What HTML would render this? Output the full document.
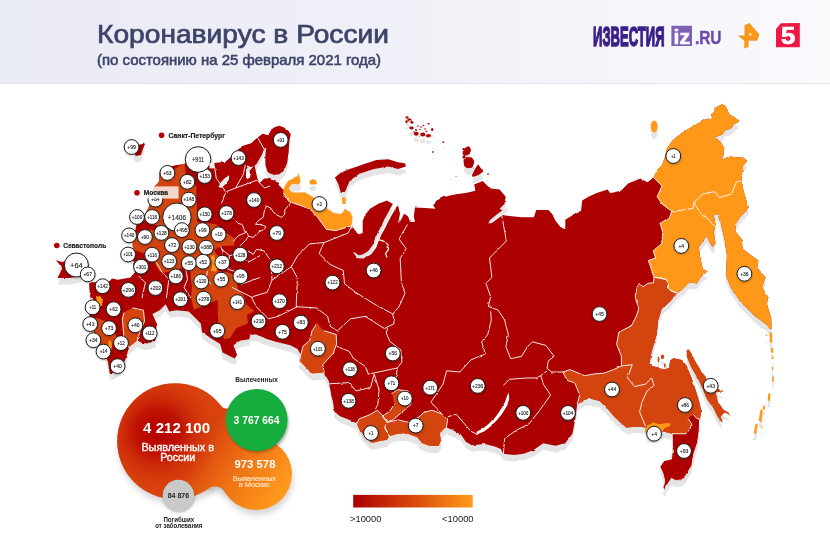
<!DOCTYPE html><html lang="ru"><head><meta charset="utf-8"><title>Коронавирус в России</title>
<style>html,body{margin:0;padding:0;background:#fff}body{width:830px;height:554px;overflow:hidden;font-family:"Liberation Sans","DejaVu Sans",sans-serif}svg{display:block}text{font-family:"Liberation Sans","DejaVu Sans",sans-serif}</style></head><body>
<svg width="830" height="554" viewBox="0 0 830 554">
<defs>
<linearGradient id="hd" x1="0" y1="0" x2="1" y2="0"><stop offset="0" stop-color="#e8eaf4"/><stop offset="0.55" stop-color="#f1f1f8"/><stop offset="1" stop-color="#faf9fc"/></linearGradient>
<linearGradient id="lg" x1="0" y1="0" x2="1" y2="0"><stop offset="0" stop-color="#ab0000"/><stop offset="0.5" stop-color="#d8480d"/><stop offset="1" stop-color="#ff9b1a"/></linearGradient>
<linearGradient id="bl" gradientUnits="userSpaceOnUse" x1="205" y1="440" x2="285" y2="490"><stop offset="0" stop-color="#d9430e"/><stop offset="0.45" stop-color="#ee7214"/><stop offset="1" stop-color="#ff9a1c"/></linearGradient>
<radialGradient id="rg" gradientUnits="userSpaceOnUse" cx="158" cy="432" r="64"><stop offset="0" stop-color="#b30000"/><stop offset="0.35" stop-color="#bf1203"/><stop offset="1" stop-color="#d9430e" stop-opacity="0"/></radialGradient>
<filter id="bs" x="-20%" y="-20%" width="140%" height="150%"><feGaussianBlur stdDeviation="3"/></filter>
<filter id="cs" x="-30%" y="-30%" width="160%" height="160%"><feGaussianBlur stdDeviation="0.8"/></filter>
<filter id="jag" x="0" y="0" width="830" height="554" filterUnits="userSpaceOnUse" color-interpolation-filters="sRGB"><feTurbulence type="fractalNoise" baseFrequency="0.22" numOctaves="2" seed="7" result="n"/><feDisplacementMap in="SourceGraphic" in2="n" scale="2.2" xChannelSelector="R" yChannelSelector="G"/></filter>
</defs>
<rect x="0" y="0" width="830" height="83" fill="url(#hd)"/>
<rect x="0" y="83" width="830" height="1" fill="#e3e3ea"/>
<text x="97" y="42.8" font-size="26" fill="#3e4369" stroke="#3e4369" stroke-width="0.7" textLength="292" lengthAdjust="spacingAndGlyphs">Коронавирус в России</text>
<text x="97" y="65.2" font-size="14.5" fill="#3e4369" stroke="#3e4369" stroke-width="0.55" textLength="284" lengthAdjust="spacingAndGlyphs">(по состоянию на 25 февраля 2021 года)</text>
<g id="logos">
<text x="593.1" y="45.7" font-size="28" font-weight="bold" fill="#3b1f8c" stroke="#3b1f8c" stroke-width="1.6" textLength="71.4" lengthAdjust="spacingAndGlyphs">ИЗВЕСТИЯ</text>
<rect x="671.4" y="25.8" width="20.6" height="20.2" fill="#7c5fb6"/>
<text x="673.5" y="44" font-size="20" font-weight="bold" fill="#fff" stroke="#fff" stroke-width="0.6" textLength="16.5" lengthAdjust="spacingAndGlyphs">iz</text>
<text x="694.9" y="43.9" font-size="17.6" font-weight="bold" fill="#6a4bb0" stroke="#6a4bb0" stroke-width="0.4" textLength="26.6" lengthAdjust="spacingAndGlyphs">.RU</text>
<path fill-rule="evenodd" d="M744.5 25.3 L749.4 23.1 L759.5 34.5 L757 40.8 L748.6 40.8 L748.6 47 L744.3 48.6 L744.3 41 L738 35.4 L744.5 35.4 Z M749.4 32.4 L752.1 35.1 L749.4 35.4 Z" fill="#f7991c"/>
<path d="M780.9 23.3 L799.8 23.1 L799.8 47.3 L776 47.3 L776 29.1 Z" fill="#ed1846"/>
<text x="781" y="44.3" font-size="23.5" font-weight="bold" fill="#fff" stroke="#fff" stroke-width="0.7" textLength="14.3" lengthAdjust="spacingAndGlyphs">5</text>
</g>
<g filter="url(#jag)">
<g id="shadow" transform="translate(0,6.5)"><path d="M257.5 137.4 L262.6 133.8 L268.4 135.2 L271.3 129.5 L275.0 127.0 L279.2 125.8 L284.0 127.5 L288.6 130.9 L290.8 134.5 L289.3 141.0 L288.6 152.6 L287.2 162.7 L284.3 169.9 L279.2 174.3 L272.7 175.0 L267.7 172.1 L265.5 165.6 L265.2 156.9 L266.2 147.5 L264.0 149.0 L261.9 154.8 L259.0 159.8 L256.5 164.0 L253.9 166.3 L251.0 167.0 L248.1 165.6 L246.0 170.7 L246.0 177.2 L248.1 180.0 L250.3 176.4 L249.6 170.7 L252.5 167.5 L254.6 165.6 L256.1 172.8 L257.5 178.6 L259.7 183.0 L261.9 180.8 L264.0 178.6 L268.4 178.6 L274.2 180.8 L279.2 183.0 L280.7 187.3 L282.9 189.0 L287.2 181.5 L294.4 177.2 L297.3 175.7 L298.4 172.1 L300.2 177.2 L300.9 181.5 L298.7 185.1 L294.4 184.4 L290.8 185.8 L289.3 188.7 L291.5 191.6 L297.3 192.3 L304.6 191.9 L312.0 196.0 L319.0 201.0 L326.4 207.6 L333.7 212.5 L340.9 213.7 L344.5 208.8 L349.4 210.0 L353.0 217.3 L351.8 225.8 L357.0 233.0 L359.0 234.2 L362.7 233.0 L362.7 220.9 L365.0 215.0 L370.0 208.8 L378.0 204.0 L386.9 200.4 L392.9 204.0 L390.7 207.7 L387.2 214.2 L384.0 220.1 L381.5 225.8 L377.8 232.5 L374.9 239.1 L372.5 245.3 L368.1 251.3 L362.5 254.6 L358.7 255.3 L354.1 252.0 L353.3 252.8 L357.5 258.3 L363.7 258.4 L371.1 254.5 L376.3 247.5 L378.7 240.7 L381.6 234.3 L385.3 227.8 L388.0 222.1 L391.0 216.4 L394.7 209.9 L398.0 205.2 L400.0 213.7 L398.0 223.3 L401.0 220.0 L404.0 213.7 L407.7 216.1 L409.0 218.5 L410.0 222.0 L415.0 222.1 L413.8 216.1 L415.0 207.6 L425.0 208.0 L435.5 208.8 L433.1 205.2 L436.7 200.4 L444.0 196.7 L456.1 194.3 L465.8 193.1 L475.4 190.7 L474.2 184.6 L482.7 181.0 L485.1 183.4 L490.0 188.3 L499.6 189.5 L505.7 196.7 L504.5 204.0 L499.6 208.8 L503.0 211.0 L502.0 214.9 L509.3 216.1 L521.8 217.3 L533.9 217.3 L536.3 210.0 L548.4 210.0 L552.0 213.7 L555.6 220.9 L560.5 227.0 L565.3 229.4 L565.3 219.7 L573.0 215.0 L581.0 211.2 L582.2 200.4 L589.0 196.5 L596.7 193.1 L607.6 189.5 L610.0 193.1 L620.9 190.7 L628.2 183.4 L640.3 178.6 L647.5 182.2 L653.6 177.4 L657.2 170.1 L662.0 165.3 L665.0 157.0 L666.9 148.4 L672.3 140.8 L680.8 133.5 L692.9 126.3 L705.0 119.5 L712.2 117.8 L711.0 114.2 L714.6 111.8 L714.6 108.1 L723.1 103.8 L726.7 108.1 L729.2 114.2 L735.2 117.8 L738.8 121.4 L734.0 125.0 L730.4 128.7 L725.5 129.9 L721.9 134.7 L714.6 137.2 L720.7 142.0 L724.3 148.0 L723.1 156.5 L720.7 160.1 L729.2 156.5 L743.7 157.7 L747.3 161.3 L742.5 166.2 L741.7 180.7 L743.7 191.6 L746.3 200.0 L748.7 207.3 L744.0 213.0 L740.3 216.9 L735.4 224.2 L735.4 231.4 L741.5 238.7 L742.7 248.4 L750.0 254.4 L758.4 260.5 L757.2 267.7 L765.7 277.4 L762.0 287.1 L768.1 296.7 L766.9 304.0 L771.2 318.0 L771.5 326.0 L770.5 329.5 L767.0 325.0 L754.8 316.1 L740.3 301.6 L730.6 287.1 L725.8 275.0 L727.0 255.6 L724.5 238.7 L720.9 224.2 L718.0 215.0 L714.0 214.0 L713.7 215.7 L716.1 226.6 L713.7 231.4 L715.6 243.5 L712.5 247.2 L706.4 236.3 L698.7 247.2 L700.4 258.0 L702.8 268.9 L707.6 271.3 L700.4 277.4 L696.7 283.4 L689.5 282.2 L682.2 289.5 L677.4 293.1 L670.1 301.6 L661.7 308.8 L658.0 320.9 L656.8 334.0 L655.3 339.3 L651.7 351.4 L649.3 363.5 L652.0 366.0 L658.0 367.5 L664.0 369.5 L669.0 368.0 L670.2 360.5 L673.4 358.2 L681.9 359.9 L686.7 366.0 L691.6 378.0 L696.4 392.6 L700.0 404.6 L701.2 413.1 L699.6 419.3 L699.2 430.9 L697.6 442.5 L693.8 454.1 L691.8 465.7 L686.0 475.4 L681.2 480.2 L674.4 480.2 L671.5 478.3 L668.6 483.1 L665.7 486.0 L665.4 489.9 L662.9 487.9 L664.8 481.2 L662.9 473.4 L660.0 466.7 L663.8 460.9 L671.5 458.9 L672.5 448.3 L672.2 433.7 L662.6 431.2 L654.0 436.0 L648.0 436.1 L645.6 427.6 L638.4 426.4 L626.3 427.6 L616.6 419.2 L608.1 409.5 L599.7 401.0 L590.0 398.6 L584.4 399.8 L577.2 404.6 L574.8 421.6 L572.4 433.7 L565.1 443.3 L555.4 445.8 L543.3 443.3 L533.5 450.1 L523.8 453.8 L514.1 455.0 L503.2 453.8 L500.8 448.9 L494.8 446.5 L485.1 444.1 L471.8 445.3 L465.8 441.7 L460.9 434.4 L453.7 430.8 L446.4 427.2 L440.4 433.2 L441.6 440.5 L439.2 446.5 L429.5 446.5 L421.0 443.4 L417.4 438.0 L407.7 434.4 L398.0 434.4 L389.6 436.8 L387.2 440.5 L379.9 441.7 L372.6 443.4 L366.6 439.3 L360.6 432.0 L356.9 423.5 L349.7 419.9 L340.0 416.3 L334.3 411.6 L333.1 401.9 L331.4 396.1 L329.0 381.6 L324.1 373.1 L310.8 374.3 L308.4 370.7 L298.7 361.0 L301.1 355.0 L297.5 348.9 L290.3 345.3 L275.8 341.7 L263.7 338.0 L256.4 334.4 L250.4 334.4 L249.2 339.3 L240.7 340.5 L233.4 345.3 L237.1 355.0 L234.6 358.6 L222.6 352.6 L220.1 344.1 L210.5 338.0 L202.0 332.0 L200.8 323.5 L193.5 316.3 L188.7 311.4 L176.6 310.2 L169.3 311.4 L165.7 304.2 L159.7 310.2 L152.4 313.9 L156.7 323.5 L155.5 340.5 L148.0 343.5 L142.0 343.0 L137.4 340.5 L129.0 347.7 L125.3 359.8 L121.0 368.0 L114.0 373.0 L109.6 373.0 L108.0 362.0 L104.0 351.0 L97.0 340.0 L92.0 327.0 L89.0 313.0 L91.0 302.0 L93.9 299.2 L90.2 296.7 L89.0 283.4 L91.4 282.2 L108.4 282.2 L112.0 278.6 L118.0 279.8 L130.1 277.4 L135.0 272.6 L132.6 260.5 L132.6 243.5 L135.0 231.4 L143.4 224.2 L139.5 225.8 L146.7 211.2 L149.2 206.4 L154.0 187.0 L158.8 182.2 L160.0 170.1 L167.0 167.0 L175.8 165.3 L184.2 164.1 L190.0 160.0 L200.0 158.0 L210.5 165.7 L214.3 162.9 L222.1 161.9 L225.0 162.0 L229.3 158.4 L238.0 149.7 L242.3 146.1 L251.0 143.2 Z" fill="#e4e4e4"/><path d="M334.9 177.4 L340.9 172.6 L349.7 168.9 L364.2 164.1 L376.3 160.0 L388.4 159.3 L398.0 162.2 L405.3 163.4 L405.8 166.5 L398.0 168.9 L388.4 166.5 L373.9 168.9 L359.3 173.8 L349.7 181.0 L344.8 191.9 L340.9 193.1 L338.5 184.6 Z" fill="#e4e4e4"/><path d="M462.5 152.0 L465.0 148.0 L468.5 146.0 L470.9 149.0 L470.5 153.0 L467.0 155.6 L463.0 155.0 Z" fill="#e4e4e4"/><path d="M463.5 160.0 L466.0 157.0 L472.0 157.5 L474.2 161.0 L473.5 166.0 L470.0 169.3 L466.0 167.5 L464.0 164.0 Z" fill="#e4e4e4"/><path d="M472.0 175.0 L475.0 169.0 L478.1 164.2 L480.0 167.0 L483.4 171.5 L480.0 174.0 L476.0 176.0 L472.5 177.0 Z" fill="#e4e4e4"/><path d="M140.0 144.5 L145.2 143.5 L142.9 149.3 L140.9 155.1 L136.0 156.0 L133.0 152.0 L136.0 146.0 Z" fill="#e4e4e4"/><path d="M55.8 260.3 L62.0 262.0 L70.0 260.0 L80.0 263.0 L84.0 270.0 L80.0 276.0 L70.0 278.0 L57.4 277.9 L60.0 273.0 L62.2 268.6 L59.0 264.0 Z" fill="#e4e4e4"/><ellipse cx="407.0" cy="117.5" rx="1.6" ry="1.2" fill="#e4e4e4"/><ellipse cx="409.5" cy="120.0" rx="2.2" ry="1.4" fill="#e4e4e4"/><ellipse cx="412.0" cy="122.5" rx="1.5" ry="1.2" fill="#e4e4e4"/><ellipse cx="406.5" cy="121.5" rx="1.2" ry="1.2" fill="#e4e4e4"/><ellipse cx="411.5" cy="128.0" rx="2.2" ry="1.4" fill="#e4e4e4"/><ellipse cx="416.0" cy="130.0" rx="1.0" ry="1.0" fill="#e4e4e4"/><ellipse cx="418.0" cy="126.0" rx="0.8" ry="0.8" fill="#e4e4e4"/><ellipse cx="421.0" cy="127.0" rx="0.9" ry="0.7" fill="#e4e4e4"/><ellipse cx="423.5" cy="125.5" rx="0.9" ry="0.8" fill="#e4e4e4"/><ellipse cx="425.0" cy="129.0" rx="0.8" ry="0.8" fill="#e4e4e4"/><ellipse cx="420.0" cy="129.5" rx="0.7" ry="0.7" fill="#e4e4e4"/><ellipse cx="416.3" cy="133.8" rx="2.4" ry="2.0" fill="#e4e4e4"/><ellipse cx="422.8" cy="134.6" rx="2.6" ry="2.0" fill="#e4e4e4"/><ellipse cx="428.5" cy="135.7" rx="2.6" ry="1.7" fill="#e4e4e4"/><ellipse cx="428.6" cy="123.8" rx="1.2" ry="0.8" fill="#e4e4e4"/><ellipse cx="432.2" cy="129.5" rx="1.2" ry="1.5" fill="#e4e4e4"/><ellipse cx="443.4" cy="142.1" rx="1.0" ry="0.9" fill="#e4e4e4"/><ellipse cx="433.0" cy="152.0" rx="0.8" ry="0.9" fill="#e4e4e4"/><ellipse cx="414.0" cy="132.0" rx="0.9" ry="0.8" fill="#e4e4e4"/><ellipse cx="426.5" cy="131.5" rx="1.0" ry="0.7" fill="#e4e4e4"/><ellipse cx="463.5" cy="149.0" rx="1.3" ry="1.0" fill="#e4e4e4"/><ellipse cx="464.0" cy="157.0" rx="1.6" ry="1.6" fill="#e4e4e4"/><ellipse cx="450.5" cy="179.0" rx="0.7" ry="0.8" fill="#e4e4e4"/><ellipse cx="456.0" cy="176.5" rx="0.5" ry="0.5" fill="#e4e4e4"/><ellipse cx="488.0" cy="174.0" rx="1.0" ry="0.8" fill="#e4e4e4"/><path d="M686.7 349.8 L689.0 349.5 L691.4 353.2 L695.0 360.5 L702.2 372.6 L709.0 380.5 L718.2 388.9 L724.2 391.3 L715.8 392.6 L718.2 402.2 L720.8 405.8 L723.7 409.7 L728.6 412.6 L730.5 417.4 L728.6 414.5 L724.7 412.6 L720.8 416.4 L722.8 423.2 L717.9 417.4 L713.1 407.7 L707.3 400.0 L698.8 380.5 L690.4 366.0 L686.7 356.3 Z" fill="#e4e4e4"/><ellipse cx="658.5" cy="359.5" rx="0.9" ry="3.0" fill="#e4e4e4"/><ellipse cx="662.5" cy="356.8" rx="1.7" ry="2.4" fill="#e4e4e4"/><ellipse cx="664.8" cy="365.5" rx="0.9" ry="2.2" fill="#e4e4e4"/><ellipse cx="313.0" cy="182.0" rx="3.6" ry="2.6" fill="#e4e4e4"/><ellipse cx="654.2" cy="126.4" rx="3.4" ry="6.0" fill="#e4e4e4"/><path d="M769.6 332.2 L772.2 332.5 L772.2 342.8 L769.8 342.5 Z" fill="#e4e4e4"/><path d="M770.8 348.0 L773.3 348.5 L773.3 353.0 L771.0 352.5 Z" fill="#e4e4e4"/><path d="M771.8 356.7 L773.3 356.7 L773.3 359.2 L771.8 359.2 Z" fill="#e4e4e4"/><path d="M771.8 366.8 L773.3 366.8 L773.3 370.6 L771.8 370.6 Z" fill="#e4e4e4"/><path d="M772.2 376.2 L773.8 376.2 L773.6 382.0 L772.1 382.0 Z" fill="#e4e4e4"/><path d="M768.4 393.3 L770.6 393.5 L769.8 400.9 L767.6 400.5 Z" fill="#e4e4e4"/><path d="M763.4 405.5 L765.6 405.8 L764.6 409.7 L762.6 409.5 Z" fill="#e4e4e4"/><path d="M760.4 409.7 L763.0 410.0 L761.4 421.1 L758.7 420.8 Z" fill="#e4e4e4"/><path d="M755.4 424.1 L758.0 424.5 L756.0 433.7 L753.7 433.3 Z" fill="#e4e4e4"/><path d="M765.8 334.6 L767.1 334.6 L767.1 336.2 L765.8 336.2 Z" fill="#e4e4e4"/><path d="M761.1 426.6 L762.4 426.6 L762.4 428.2 L761.1 428.2 Z" fill="#e4e4e4"/></g>
<g id="map"><path d="M257.5 137.4 L262.6 133.8 L268.4 135.2 L271.3 129.5 L275.0 127.0 L279.2 125.8 L284.0 127.5 L288.6 130.9 L290.8 134.5 L289.3 141.0 L288.6 152.6 L287.2 162.7 L284.3 169.9 L279.2 174.3 L272.7 175.0 L267.7 172.1 L265.5 165.6 L265.2 156.9 L266.2 147.5 L264.0 149.0 L261.9 154.8 L259.0 159.8 L256.5 164.0 L253.9 166.3 L251.0 167.0 L248.1 165.6 L246.0 170.7 L246.0 177.2 L248.1 180.0 L250.3 176.4 L249.6 170.7 L252.5 167.5 L254.6 165.6 L256.1 172.8 L257.5 178.6 L259.7 183.0 L261.9 180.8 L264.0 178.6 L268.4 178.6 L274.2 180.8 L279.2 183.0 L280.7 187.3 L282.9 189.0 L287.2 181.5 L294.4 177.2 L297.3 175.7 L298.4 172.1 L300.2 177.2 L300.9 181.5 L298.7 185.1 L294.4 184.4 L290.8 185.8 L289.3 188.7 L291.5 191.6 L297.3 192.3 L304.6 191.9 L312.0 196.0 L319.0 201.0 L326.4 207.6 L333.7 212.5 L340.9 213.7 L344.5 208.8 L349.4 210.0 L353.0 217.3 L351.8 225.8 L357.0 233.0 L359.0 234.2 L362.7 233.0 L362.7 220.9 L365.0 215.0 L370.0 208.8 L378.0 204.0 L386.9 200.4 L392.9 204.0 L390.7 207.7 L387.2 214.2 L384.0 220.1 L381.5 225.8 L377.8 232.5 L374.9 239.1 L372.5 245.3 L368.1 251.3 L362.5 254.6 L358.7 255.3 L354.1 252.0 L353.3 252.8 L357.5 258.3 L363.7 258.4 L371.1 254.5 L376.3 247.5 L378.7 240.7 L381.6 234.3 L385.3 227.8 L388.0 222.1 L391.0 216.4 L394.7 209.9 L398.0 205.2 L400.0 213.7 L398.0 223.3 L401.0 220.0 L404.0 213.7 L407.7 216.1 L409.0 218.5 L410.0 222.0 L415.0 222.1 L413.8 216.1 L415.0 207.6 L425.0 208.0 L435.5 208.8 L433.1 205.2 L436.7 200.4 L444.0 196.7 L456.1 194.3 L465.8 193.1 L475.4 190.7 L474.2 184.6 L482.7 181.0 L485.1 183.4 L490.0 188.3 L499.6 189.5 L505.7 196.7 L504.5 204.0 L499.6 208.8 L503.0 211.0 L502.0 214.9 L509.3 216.1 L521.8 217.3 L533.9 217.3 L536.3 210.0 L548.4 210.0 L552.0 213.7 L555.6 220.9 L560.5 227.0 L565.3 229.4 L565.3 219.7 L573.0 215.0 L581.0 211.2 L582.2 200.4 L589.0 196.5 L596.7 193.1 L607.6 189.5 L610.0 193.1 L620.9 190.7 L628.2 183.4 L640.3 178.6 L647.5 182.2 L653.6 177.4 L657.2 170.1 L662.0 165.3 L665.0 157.0 L666.9 148.4 L672.3 140.8 L680.8 133.5 L692.9 126.3 L705.0 119.5 L712.2 117.8 L711.0 114.2 L714.6 111.8 L714.6 108.1 L723.1 103.8 L726.7 108.1 L729.2 114.2 L735.2 117.8 L738.8 121.4 L734.0 125.0 L730.4 128.7 L725.5 129.9 L721.9 134.7 L714.6 137.2 L720.7 142.0 L724.3 148.0 L723.1 156.5 L720.7 160.1 L729.2 156.5 L743.7 157.7 L747.3 161.3 L742.5 166.2 L741.7 180.7 L743.7 191.6 L746.3 200.0 L748.7 207.3 L744.0 213.0 L740.3 216.9 L735.4 224.2 L735.4 231.4 L741.5 238.7 L742.7 248.4 L750.0 254.4 L758.4 260.5 L757.2 267.7 L765.7 277.4 L762.0 287.1 L768.1 296.7 L766.9 304.0 L771.2 318.0 L771.5 326.0 L770.5 329.5 L767.0 325.0 L754.8 316.1 L740.3 301.6 L730.6 287.1 L725.8 275.0 L727.0 255.6 L724.5 238.7 L720.9 224.2 L718.0 215.0 L714.0 214.0 L713.7 215.7 L716.1 226.6 L713.7 231.4 L715.6 243.5 L712.5 247.2 L706.4 236.3 L698.7 247.2 L700.4 258.0 L702.8 268.9 L707.6 271.3 L700.4 277.4 L696.7 283.4 L689.5 282.2 L682.2 289.5 L677.4 293.1 L670.1 301.6 L661.7 308.8 L658.0 320.9 L656.8 334.0 L655.3 339.3 L651.7 351.4 L649.3 363.5 L652.0 366.0 L658.0 367.5 L664.0 369.5 L669.0 368.0 L670.2 360.5 L673.4 358.2 L681.9 359.9 L686.7 366.0 L691.6 378.0 L696.4 392.6 L700.0 404.6 L701.2 413.1 L699.6 419.3 L699.2 430.9 L697.6 442.5 L693.8 454.1 L691.8 465.7 L686.0 475.4 L681.2 480.2 L674.4 480.2 L671.5 478.3 L668.6 483.1 L665.7 486.0 L665.4 489.9 L662.9 487.9 L664.8 481.2 L662.9 473.4 L660.0 466.7 L663.8 460.9 L671.5 458.9 L672.5 448.3 L672.2 433.7 L662.6 431.2 L654.0 436.0 L648.0 436.1 L645.6 427.6 L638.4 426.4 L626.3 427.6 L616.6 419.2 L608.1 409.5 L599.7 401.0 L590.0 398.6 L584.4 399.8 L577.2 404.6 L574.8 421.6 L572.4 433.7 L565.1 443.3 L555.4 445.8 L543.3 443.3 L533.5 450.1 L523.8 453.8 L514.1 455.0 L503.2 453.8 L500.8 448.9 L494.8 446.5 L485.1 444.1 L471.8 445.3 L465.8 441.7 L460.9 434.4 L453.7 430.8 L446.4 427.2 L440.4 433.2 L441.6 440.5 L439.2 446.5 L429.5 446.5 L421.0 443.4 L417.4 438.0 L407.7 434.4 L398.0 434.4 L389.6 436.8 L387.2 440.5 L379.9 441.7 L372.6 443.4 L366.6 439.3 L360.6 432.0 L356.9 423.5 L349.7 419.9 L340.0 416.3 L334.3 411.6 L333.1 401.9 L331.4 396.1 L329.0 381.6 L324.1 373.1 L310.8 374.3 L308.4 370.7 L298.7 361.0 L301.1 355.0 L297.5 348.9 L290.3 345.3 L275.8 341.7 L263.7 338.0 L256.4 334.4 L250.4 334.4 L249.2 339.3 L240.7 340.5 L233.4 345.3 L237.1 355.0 L234.6 358.6 L222.6 352.6 L220.1 344.1 L210.5 338.0 L202.0 332.0 L200.8 323.5 L193.5 316.3 L188.7 311.4 L176.6 310.2 L169.3 311.4 L165.7 304.2 L159.7 310.2 L152.4 313.9 L156.7 323.5 L155.5 340.5 L148.0 343.5 L142.0 343.0 L137.4 340.5 L129.0 347.7 L125.3 359.8 L121.0 368.0 L114.0 373.0 L109.6 373.0 L108.0 362.0 L104.0 351.0 L97.0 340.0 L92.0 327.0 L89.0 313.0 L91.0 302.0 L93.9 299.2 L90.2 296.7 L89.0 283.4 L91.4 282.2 L108.4 282.2 L112.0 278.6 L118.0 279.8 L130.1 277.4 L135.0 272.6 L132.6 260.5 L132.6 243.5 L135.0 231.4 L143.4 224.2 L139.5 225.8 L146.7 211.2 L149.2 206.4 L154.0 187.0 L158.8 182.2 L160.0 170.1 L167.0 167.0 L175.8 165.3 L184.2 164.1 L190.0 160.0 L200.0 158.0 L210.5 165.7 L214.3 162.9 L222.1 161.9 L225.0 162.0 L229.3 158.4 L238.0 149.7 L242.3 146.1 L251.0 143.2 Z" fill="#ad0000"/><path d="M334.9 177.4 L340.9 172.6 L349.7 168.9 L364.2 164.1 L376.3 160.0 L388.4 159.3 L398.0 162.2 L405.3 163.4 L405.8 166.5 L398.0 168.9 L388.4 166.5 L373.9 168.9 L359.3 173.8 L349.7 181.0 L344.8 191.9 L340.9 193.1 L338.5 184.6 Z" fill="#ad0000"/><path d="M462.5 152.0 L465.0 148.0 L468.5 146.0 L470.9 149.0 L470.5 153.0 L467.0 155.6 L463.0 155.0 Z" fill="#ad0000"/><path d="M463.5 160.0 L466.0 157.0 L472.0 157.5 L474.2 161.0 L473.5 166.0 L470.0 169.3 L466.0 167.5 L464.0 164.0 Z" fill="#ad0000"/><path d="M472.0 175.0 L475.0 169.0 L478.1 164.2 L480.0 167.0 L483.4 171.5 L480.0 174.0 L476.0 176.0 L472.5 177.0 Z" fill="#ad0000"/><path d="M140.0 144.5 L145.2 143.5 L142.9 149.3 L140.9 155.1 L136.0 156.0 L133.0 152.0 L136.0 146.0 Z" fill="#ad0000"/><path d="M55.8 260.3 L62.0 262.0 L70.0 260.0 L80.0 263.0 L84.0 270.0 L80.0 276.0 L70.0 278.0 L57.4 277.9 L60.0 273.0 L62.2 268.6 L59.0 264.0 Z" fill="#ad0000"/><ellipse cx="407.0" cy="117.5" rx="1.6" ry="1.2" fill="#ad0000"/><ellipse cx="409.5" cy="120.0" rx="2.2" ry="1.4" fill="#ad0000"/><ellipse cx="412.0" cy="122.5" rx="1.5" ry="1.2" fill="#ad0000"/><ellipse cx="406.5" cy="121.5" rx="1.2" ry="1.2" fill="#ad0000"/><ellipse cx="411.5" cy="128.0" rx="2.2" ry="1.4" fill="#ad0000"/><ellipse cx="416.0" cy="130.0" rx="1.0" ry="1.0" fill="#ad0000"/><ellipse cx="418.0" cy="126.0" rx="0.8" ry="0.8" fill="#ad0000"/><ellipse cx="421.0" cy="127.0" rx="0.9" ry="0.7" fill="#ad0000"/><ellipse cx="423.5" cy="125.5" rx="0.9" ry="0.8" fill="#ad0000"/><ellipse cx="425.0" cy="129.0" rx="0.8" ry="0.8" fill="#ad0000"/><ellipse cx="420.0" cy="129.5" rx="0.7" ry="0.7" fill="#ad0000"/><ellipse cx="416.3" cy="133.8" rx="2.4" ry="2.0" fill="#ad0000"/><ellipse cx="422.8" cy="134.6" rx="2.6" ry="2.0" fill="#ad0000"/><ellipse cx="428.5" cy="135.7" rx="2.6" ry="1.7" fill="#ad0000"/><ellipse cx="428.6" cy="123.8" rx="1.2" ry="0.8" fill="#ad0000"/><ellipse cx="432.2" cy="129.5" rx="1.2" ry="1.5" fill="#ad0000"/><ellipse cx="443.4" cy="142.1" rx="1.0" ry="0.9" fill="#ad0000"/><ellipse cx="433.0" cy="152.0" rx="0.8" ry="0.9" fill="#ad0000"/><ellipse cx="414.0" cy="132.0" rx="0.9" ry="0.8" fill="#ad0000"/><ellipse cx="426.5" cy="131.5" rx="1.0" ry="0.7" fill="#ad0000"/><ellipse cx="463.5" cy="149.0" rx="1.3" ry="1.0" fill="#ad0000"/><ellipse cx="464.0" cy="157.0" rx="1.6" ry="1.6" fill="#ad0000"/><ellipse cx="450.5" cy="179.0" rx="0.7" ry="0.8" fill="#ad0000"/><ellipse cx="456.0" cy="176.5" rx="0.5" ry="0.5" fill="#ad0000"/><ellipse cx="488.0" cy="174.0" rx="1.0" ry="0.8" fill="#ad0000"/><path d="M686.7 349.8 L689.0 349.5 L691.4 353.2 L695.0 360.5 L702.2 372.6 L709.0 380.5 L718.2 388.9 L724.2 391.3 L715.8 392.6 L718.2 402.2 L720.8 405.8 L723.7 409.7 L728.6 412.6 L730.5 417.4 L728.6 414.5 L724.7 412.6 L720.8 416.4 L722.8 423.2 L717.9 417.4 L713.1 407.7 L707.3 400.0 L698.8 380.5 L690.4 366.0 L686.7 356.3 Z" fill="#d3440e"/><ellipse cx="658.5" cy="359.5" rx="0.9" ry="3.0" fill="#d3440e"/><ellipse cx="662.5" cy="356.8" rx="1.7" ry="2.4" fill="#d3440e"/><ellipse cx="664.8" cy="365.5" rx="0.9" ry="2.2" fill="#d3440e"/><ellipse cx="313.0" cy="182.0" rx="3.6" ry="2.6" fill="#ff9819"/><ellipse cx="654.2" cy="126.4" rx="3.4" ry="6.0" fill="#ff9819"/><path d="M769.6 332.2 L772.2 332.5 L772.2 342.8 L769.8 342.5 Z" fill="#ff9819"/><path d="M770.8 348.0 L773.3 348.5 L773.3 353.0 L771.0 352.5 Z" fill="#ff9819"/><path d="M771.8 356.7 L773.3 356.7 L773.3 359.2 L771.8 359.2 Z" fill="#ff9819"/><path d="M771.8 366.8 L773.3 366.8 L773.3 370.6 L771.8 370.6 Z" fill="#ff9819"/><path d="M772.2 376.2 L773.8 376.2 L773.6 382.0 L772.1 382.0 Z" fill="#ff9819"/><path d="M768.4 393.3 L770.6 393.5 L769.8 400.9 L767.6 400.5 Z" fill="#ff9819"/><path d="M763.4 405.5 L765.6 405.8 L764.6 409.7 L762.6 409.5 Z" fill="#ff9819"/><path d="M760.4 409.7 L763.0 410.0 L761.4 421.1 L758.7 420.8 Z" fill="#ff9819"/><path d="M755.4 424.1 L758.0 424.5 L756.0 433.7 L753.7 433.3 Z" fill="#ff9819"/><path d="M765.8 334.6 L767.1 334.6 L767.1 336.2 L765.8 336.2 Z" fill="#ff9819"/><path d="M761.1 426.6 L762.4 426.6 L762.4 428.2 L761.1 428.2 Z" fill="#ff9819"/><path d="M653.6 177.4 L657.2 170.1 L662.0 165.3 L665.0 157.0 L666.9 148.4 L672.3 140.8 L680.8 133.5 L692.9 126.3 L705.0 119.5 L712.2 117.8 L711.0 114.2 L714.6 111.8 L714.6 108.1 L723.1 103.8 L726.7 108.1 L729.2 114.2 L735.2 117.8 L738.8 121.4 L734.0 125.0 L730.4 128.7 L725.5 129.9 L721.9 134.7 L714.6 137.2 L720.7 142.0 L724.3 148.0 L723.1 156.5 L720.7 160.1 L729.2 156.5 L743.7 157.7 L747.3 161.3 L742.5 166.2 L741.7 180.7 L743.7 191.6 L746.3 200.0 L748.7 207.3 L744.0 213.0 L740.3 216.9 L735.4 224.2 L735.4 231.4 L741.5 238.7 L742.7 248.4 L750.0 254.4 L758.4 260.5 L757.2 267.7 L765.7 277.4 L762.0 287.1 L768.1 296.7 L766.9 304.0 L771.2 318.0 L771.5 326.0 L770.5 329.5 L767.0 325.0 L754.8 316.1 L740.3 301.6 L730.6 287.1 L725.8 275.0 L727.0 255.6 L724.5 238.7 L720.9 224.2 L718.0 215.0 L714.0 214.0 L713.7 215.7 L716.1 226.6 L713.7 231.4 L715.6 243.5 L712.5 247.2 L706.4 236.3 L698.7 247.2 L700.4 258.0 L702.8 268.9 L707.6 271.3 L700.4 277.4 L696.7 283.4 L689.5 282.2 L682.2 289.5 L677.4 293.1 L671.4 290.9 L667.6 288.7 L668.7 283.3 L666.0 279.5 L659.5 277.9 L654.0 277.4 L652.0 271.3 L648.4 260.5 L655.6 258.0 L653.2 250.8 L661.7 243.5 L662.9 232.6 L660.0 223.0 L669.3 218.5 L671.7 211.2 L662.0 204.0 L657.2 196.7 L662.0 185.9 Z" fill="#ff9819"/><path d="M677.4 293.1 L670.1 301.6 L661.7 308.8 L658.0 320.9 L656.8 334.0 L655.3 339.3 L651.7 351.4 L649.3 363.5 L652.0 366.0 L658.0 367.5 L664.0 369.5 L669.0 368.0 L670.2 360.5 L673.4 358.2 L681.9 359.9 L686.7 366.0 L691.6 378.0 L696.4 392.6 L700.0 404.6 L701.2 413.1 L699.6 419.3 L699.2 430.9 L697.6 442.5 L693.8 454.1 L691.8 465.7 L686.0 475.4 L681.2 480.2 L674.4 480.2 L671.5 478.3 L668.6 483.1 L665.7 486.0 L665.4 489.9 L662.9 487.9 L664.8 481.2 L662.9 473.4 L660.0 466.7 L663.8 460.9 L671.5 458.9 L672.5 448.3 L672.2 433.7 L662.6 431.2 L654.0 436.0 L648.0 436.1 L645.6 427.6 L638.4 426.4 L626.3 427.6 L616.6 419.2 L608.1 409.5 L599.7 401.0 L590.0 398.6 L584.4 399.8 L577.2 404.6 L579.6 395.0 L574.8 382.9 L567.5 380.5 L562.7 372.0 L570.0 369.6 L584.4 375.6 L594.0 374.0 L603.8 373.2 L613.5 369.6 L621.4 366.0 L621.4 356.3 L616.6 344.2 L619.0 332.0 L621.8 330.6 L631.4 325.8 L636.3 316.1 L638.7 308.8 L635.1 296.7 L637.5 285.9 L640.0 284.4 L643.2 286.6 L648.0 283.3 L653.5 282.8 L654.0 277.4 L659.5 277.9 L666.0 279.5 L668.7 283.3 L667.6 288.7 L671.4 290.9 Z" fill="#d3440e"/><path d="M692.8 413.9 L696.7 418.4 L699.6 419.3 L699.2 430.9 L697.6 442.5 L693.8 454.1 L691.8 465.7 L686.0 475.4 L681.2 480.2 L674.4 480.2 L671.5 478.3 L668.6 483.1 L665.7 486.0 L665.4 489.9 L662.9 487.9 L664.8 481.2 L662.9 473.4 L660.0 466.7 L663.8 460.9 L671.5 458.9 L672.5 448.3 L672.2 433.7 L686.0 433.8 L689.9 429.0 L691.8 424.2 L688.0 418.4 Z" fill="#ad0000"/><path d="M644.5 430.9 L647.4 426.1 L653.2 422.2 L659.0 424.2 L664.8 423.2 L670.6 423.2 L669.6 426.1 L664.8 428.0 L661.9 431.9 L654.0 437.0 L648.0 436.5 Z" fill="#ff9819"/><path d="M282.9 188.3 L287.2 181.5 L294.4 177.2 L297.3 175.7 L298.4 172.1 L300.2 177.2 L300.9 181.5 L298.7 185.1 L294.4 184.4 L290.8 185.8 L289.3 188.7 L291.5 191.6 L297.3 192.3 L304.6 191.9 L312.0 196.0 L319.0 201.0 L326.4 207.6 L333.7 212.5 L340.9 213.7 L344.5 208.8 L349.4 210.0 L353.0 217.3 L351.8 225.8 L336.1 230.6 L326.4 229.4 L316.7 216.1 L309.5 208.8 L299.8 205.2 L288.9 201.6 L283.5 193.0 Z" fill="#ff9819"/><path d="M316.9 323.5 L312.0 330.8 L309.6 340.5 L302.9 346.3 L299.3 361.0 L308.4 370.7 L310.8 374.3 L324.1 373.1 L322.9 364.6 L333.1 353.5 L336.7 343.9 L336.2 334.4 L324.1 330.8 Z" fill="#d3440e"/><path d="M356.9 423.5 L359.3 418.7 L369.0 415.1 L377.5 410.2 L382.3 415.1 L387.2 422.3 L384.7 427.2 L389.6 436.8 L387.2 440.5 L379.9 441.7 L372.6 443.4 L366.6 439.3 L360.6 432.0 Z" fill="#d3440e"/><path d="M392.0 393.3 L398.0 389.7 L408.0 391.0 L411.3 404.2 L402.9 411.4 L394.4 418.7 L387.2 422.3 L382.3 416.3 L389.6 411.4 L394.4 404.2 Z" fill="#d3440e"/><path d="M387.2 422.3 L398.0 419.9 L409.3 422.5 L419.8 416.3 L423.4 412.6 L431.9 410.2 L441.6 413.9 L447.6 419.9 L446.4 427.2 L440.4 433.2 L441.6 440.5 L439.2 446.5 L429.5 446.5 L421.0 443.4 L417.4 438.0 L407.7 434.4 L398.0 434.4 L389.6 436.8 L384.7 427.2 Z" fill="#d3440e"/><path d="M133.0 243.0 L133.5 236.0 L140.0 231.0 L154.0 230.0 L160.0 225.0 L192.0 222.0 L200.0 222.0 L214.0 224.0 L222.0 228.0 L228.0 234.0 L235.0 238.7 L234.0 245.5 L222.0 246.0 L214.0 250.0 L218.0 256.0 L218.0 271.0 L228.0 272.0 L236.0 276.0 L238.0 290.0 L244.0 296.0 L246.0 304.0 L254.0 311.0 L247.0 315.0 L248.0 323.5 L236.0 328.4 L230.0 338.0 L224.0 339.0 L219.0 328.0 L217.7 314.0 L217.7 300.0 L208.0 304.0 L193.5 310.0 L191.0 297.0 L192.0 287.0 L190.0 272.0 L183.0 266.0 L176.0 272.0 L160.0 272.0 L154.0 262.0 L150.0 256.0 L140.0 252.0 L133.0 250.0 Z" fill="#d3440e"/><path d="M184.4 163.2 L175.7 168.6 L160.0 170.1 L158.8 182.2 L154.0 187.0 L149.2 206.4 L146.7 211.2 L143.0 220.0 L150.0 222.0 L156.0 226.0 L165.0 228.0 L190.0 228.0 L197.0 222.0 L197.0 205.0 L196.0 186.0 L186.0 175.0 Z" fill="#d3440e"/><path d="M132.6 307.8 L143.4 310.2 L144.6 321.1 L139.8 332.0 L136.9 341.7 L129.0 347.7 L124.0 338.0 L122.4 318.7 L124.0 312.6 Z" fill="#d3440e"/><path d="M96.3 317.5 L104.7 321.1 L112.0 328.0 L116.8 336.8 L112.5 343.0 L112.0 350.0 L106.0 352.6 L100.0 345.0 L97.0 338.0 L94.0 330.0 Z" fill="#d3440e"/><path d="M96.0 297.0 L100.0 296.0 L102.8 300.0 L102.0 306.0 L99.0 306.3 L97.0 302.0 Z" fill="#ff9819"/><path d="M108.4 341.0 L111.0 340.5 L112.0 346.0 L110.5 350.0 L108.6 347.0 Z" fill="#ff9819"/><path d="M210.2 255.0 L214.0 254.7 L216.0 262.0 L217.8 268.0 L216.0 271.6 L211.0 271.0 L212.5 263.0 Z" fill="#ff9819"/><path d="M342.0 197.0 L345.5 196.7 L345.7 204.0 L342.5 204.0 Z" fill="#ff9819"/><path d="M137.0 222.0 L154.0 222.0 L156.0 229.5 L140.0 231.0 L135.0 231.4 Z" fill="#ad0000"/></g>
<path d="M228 176 L230 178 L226 184 L221 188 L218.5 187 L221 182 L225 178 Z" fill="#ececec"/>
<path d="M506.5 207.5 L508.5 210.5 L500 217 L492 223 L488.3 223.5 L490 220 L498 213.5 Z" fill="#e6e6e6"/>
<path d="M378 239.5 L383.5 241 L388 244.5 L388.5 249.5 L385.5 253.5 L387 257.5" fill="none" stroke="#e8e8e8" stroke-width="1.3"/>
<path d="M508.6 392.6 L509.3 398 L507.5 405 L502 414 L497 420 L490 427 L484 431.5 L478 434 L476.2 433.4 L477 431.5 L483 428.5 L489 423.5 L495.5 417 L500.5 410 L505 402 L507 396 Z" fill="#fff"/>
<g fill="none" stroke="#fff" stroke-width="1" stroke-opacity="0.9" stroke-linejoin="round">
<path d="M233.3 218.4 L238.2 223.3 L242.5 224.9 L244.7 231.5 L246.9 232.0 L248.5 236.3"/>
<path d="M248.5 236.3 L253.4 237.4 L257.7 232.5 L264.2 229.3 L265.9 226.6 L261.0 224.4 L255.6 224.4 L257.7 221.1 L263.1 217.4 L264.2 211.9 L266.4 206.0 L270.7 208.1 L275.1 214.1 L281.6 217.4 L284.8 214.1 L284.8 209.8 L290.3 203.3"/>
<path d="M248.5 236.3 L245.8 240.1 L241.5 244.5 L239.3 246.6"/>
<path d="M246.9 232.0 L238.2 235.8 L233.3 241.2"/>
<path d="M248.0 251.0 L253.4 254.2 L256.6 249.3 L264.2 251.0 L268.6 257.5 L270.7 260.0 L272.0 280.1"/>
<path d="M220.8 246.6 L223.0 252.0 L224.0 260.0"/>
<path d="M138.5 275.8 L145.3 282.6 L142.0 298.0"/>
<path d="M156.3 262.3 L162.2 272.5 L168.9 279.2 L166.4 298.0"/>
<path d="M185.8 269.1 L187.5 279.2 L184.1 287.6 L190.8 298.0"/>
<path d="M207.7 270.8 L206.0 277.5 L211.0 284.3"/>
<path d="M221.2 248.8 L229.6 255.6 L238.0 253.9 L248.2 262.3 L260.0 255.6"/>
<path d="M229.6 255.6 L227.9 269.1 L238.0 272.5 L241.4 284.3 L260.0 277.5"/>
<path d="M214.3 164.8 L216.3 178.3 L225.9 191.8 L235.6 188.0 L243.3 174.4 L245.3 164.8"/>
<path d="M225.9 191.8 L223.0 200.0 L221.4 203.3"/>
<path d="M235.6 188.0 L256.9 180.2 L264.6 188.0 L270.0 186.0"/>
<path d="M251.4 297.0 L256.3 306.7 L268.4 318.8 L278.0 316.4 L297.4 306.7"/>
<path d="M232.0 287.4 L251.4 297.0"/>
<path d="M632.3 364.7 L627.5 378.0 L634.7 386.5 L645.6 384.1 L651.7 378.0 L654.1 385.3 L646.8 391.3 L642.0 402.2 L639.6 411.9 L645.6 426.4"/>
<path d="M621.4 366.0 L632.3 364.7"/>
<path d="M741.7 180.7 L736.4 181.9 L731.6 194.0 L719.5 197.6 L714.6 191.6 L702.6 194.0 L694.1 202.5 L692.9 208.5 L676.0 211.0 L671.7 211.2"/>
<path d="M694.1 202.5 L696.7 207.3 L702.6 215.8 L706.4 216.9 L712.5 224.2 L716.1 226.6"/>
<path d="M336.7 346.3 L348.8 351.1 L353.7 358.4 L365.8 366.8 L368.2 374.1 L374.2 372.9 L397.2 368.0 L402.0 362.0 L400.8 349.9 L389.9 341.4 L386.3 333.0 L387.5 328.1"/>
<path d="M329.5 383.8 L348.8 382.6 L356.1 391.0 L370.6 387.4 L374.2 374.1"/>
<path d="M374.2 374.1 L379.1 389.8 L377.9 404.3 L375.4 409.2"/>
<path d="M397.2 368.0 L394.8 389.8"/>
<path d="M257.5 137.4 L264.0 149.0"/>
<path d="M501.6 214.5 L506.4 241.0 L489.5 258.0 L491.9 277.4 L485.9 283.4 L490.7 296.7 L488.3 306.4 L498.0 310.0 L504.6 320.0 L508.3 334.5 L505.9 346.6 L510.7 358.7 L521.6 356.3 L527.6 346.6 L532.5 341.8 L545.8 345.4 L554.2 356.3 L548.2 361.1 L547.0 368.4 L551.8 372.0 L562.7 372.0"/>
<path d="M490.7 311.2 L491.3 320.0 L487.7 334.5 L481.7 341.8 L485.3 353.9 L470.8 359.9 L459.9 372.0 L446.6 370.8 L443.0 384.1 L430.9 402.2 L436.9 408.3 L441.6 413.9"/>
<path d="M447.8 416.7 L456.3 414.3 L470.8 431.2 L478.0 434.9"/>
<path d="M503.4 454.0 L504.6 438.5 L516.7 430.0 L528.8 424.0 L538.5 411.9 L550.6 395.0 L543.3 384.1 L540.9 375.6 L547.0 371.0"/>
<path d="M503.4 385.3 L509.5 379.3 L526.4 378.0 L536.1 378.0 L540.9 375.6"/>
<path d="M351.8 225.7 L348.2 233.0 L324.0 242.6 L309.5 243.9 L297.4 256.0 L291.3 266.8 L272.0 280.1 L267.2 292.2 L251.4 297.0"/>
<path d="M324.0 242.6 L319.1 253.5 L330.0 264.4 L343.3 270.5 L344.5 283.8 L355.4 292.2 L374.8 304.3 L392.9 314.0 L394.1 323.7"/>
<path d="M407.4 224.5 L399.0 239.0 L406.2 248.7 L400.2 258.4 L401.4 282.6 L405.0 293.4 L399.0 306.7 L392.9 314.0"/>
<path d="M291.3 266.8 L297.4 277.7 L296.2 306.7 L316.7 308.0 L327.6 316.4 L330.0 326.1 L337.3 330.9 L350.6 318.8 L365.1 316.4 L384.4 328.5 L394.1 323.7"/>
<path d="M653.6 177.4 L662.0 185.9 L657.2 196.7 L662.0 204.0 L671.7 211.2 L669.3 218.5 L660.0 223.0 L662.9 232.6 L661.7 243.5 L653.2 250.8 L655.6 258.0 L648.4 260.5 L652.0 271.3 L654.0 277.4 L659.5 277.9 L666.0 279.5 L668.7 283.3 L667.6 288.7 L671.4 290.9 L677.4 293.1"/>
<path d="M677.4 293.1 L671.4 290.9 L667.6 288.7 L668.7 283.3 L666.0 279.5 L659.5 277.9 L654.0 277.4 L653.5 282.8 L648.0 283.3 L643.2 286.6 L640.0 284.4 L637.5 285.9 L635.1 296.7 L638.7 308.8 L636.3 316.1 L631.4 325.8 L621.8 330.6 L619.0 332.0 L616.6 344.2 L621.4 356.3 L621.4 366.0 L613.5 369.6 L603.8 373.2 L594.0 374.0 L584.4 375.6 L570.0 369.6 L562.7 372.0 L567.5 380.5 L574.8 382.9 L579.6 395.0 L577.2 404.6"/>
<path d="M316.9 323.5 L312.0 330.8 L309.6 340.5 L302.9 346.3 L299.3 361.0 L308.4 370.7 L310.8 374.3 L324.1 373.1 L322.9 364.6 L333.1 353.5 L336.7 343.9 L336.2 334.4 L324.1 330.8"/>
<path d="M356.9 423.5 L359.3 418.7 L369.0 415.1 L377.5 410.2 L382.3 415.1 L387.2 422.3 L384.7 427.2 L389.6 436.8 L387.2 440.5 L379.9 441.7 L372.6 443.4 L366.6 439.3 L360.6 432.0"/>
<path d="M392.0 393.3 L398.0 389.7 L408.0 391.0 L411.3 404.2 L402.9 411.4 L394.4 418.7 L387.2 422.3 L382.3 416.3 L389.6 411.4 L394.4 404.2"/>
<path d="M387.2 422.3 L398.0 419.9 L409.3 422.5 L419.8 416.3 L423.4 412.6 L431.9 410.2 L441.6 413.9 L447.6 419.9 L446.4 427.2 L440.4 433.2 L441.6 440.5 L439.2 446.5 L429.5 446.5 L421.0 443.4 L417.4 438.0 L407.7 434.4 L398.0 434.4 L389.6 436.8 L384.7 427.2"/>
<path d="M282.9 188.3 L287.2 181.5 L294.4 177.2 L297.3 175.7 L298.4 172.1 L300.2 177.2 L300.9 181.5 L298.7 185.1 L294.4 184.4 L290.8 185.8 L289.3 188.7 L291.5 191.6 L297.3 192.3 L304.6 191.9 L312.0 196.0 L319.0 201.0 L326.4 207.6 L333.7 212.5 L340.9 213.7 L344.5 208.8 L349.4 210.0 L353.0 217.3 L351.8 225.8 L336.1 230.6 L326.4 229.4 L316.7 216.1 L309.5 208.8 L299.8 205.2 L288.9 201.6 L283.5 193.0"/>
<path d="M692.8 413.9 L696.7 418.4 L699.6 419.3 L699.2 430.9 L697.6 442.5 L693.8 454.1 L691.8 465.7 L686.0 475.4 L681.2 480.2 L674.4 480.2 L671.5 478.3 L668.6 483.1 L665.7 486.0 L665.4 489.9 L662.9 487.9 L664.8 481.2 L662.9 473.4 L660.0 466.7 L663.8 460.9 L671.5 458.9 L672.5 448.3 L672.2 433.7 L686.0 433.8 L689.9 429.0 L691.8 424.2 L688.0 418.4"/>
<path d="M132.6 307.8 L143.4 310.2 L144.6 321.1 L139.8 332.0 L136.9 341.7 L129.0 347.7 L124.0 338.0 L122.4 318.7 L124.0 312.6"/>
</g>
</g>
<g id="cshadow" filter="url(#cs)" fill="#000" fill-opacity="0.28">
<circle cx="131.9" cy="148.0" r="7.7"/>
<circle cx="238.8" cy="159.0" r="7.7"/>
<circle cx="281.0" cy="140.9" r="7.7"/>
<circle cx="167.7" cy="173.9" r="7.7"/>
<circle cx="187.6" cy="182.8" r="7.7"/>
<circle cx="205.0" cy="177.0" r="7.7"/>
<circle cx="198.4" cy="160.5" r="13.1"/>
<circle cx="155.7" cy="200.6" r="7.7"/>
<circle cx="189.1" cy="200.6" r="7.7"/>
<circle cx="254.3" cy="201.0" r="7.7"/>
<circle cx="137.3" cy="218.0" r="7.7"/>
<circle cx="152.4" cy="218.0" r="7.7"/>
<circle cx="205.0" cy="215.3" r="7.7"/>
<circle cx="226.8" cy="214.1" r="7.7"/>
<circle cx="177.2" cy="218.2" r="14.5"/>
<circle cx="129.4" cy="236.4" r="7.7"/>
<circle cx="145.2" cy="238.0" r="7.7"/>
<circle cx="161.7" cy="233.9" r="7.7"/>
<circle cx="202.7" cy="231.1" r="7.7"/>
<circle cx="218.9" cy="235.3" r="7.7"/>
<circle cx="182.2" cy="231.1" r="7.7"/>
<circle cx="172.3" cy="246.1" r="7.7"/>
<circle cx="189.7" cy="247.8" r="7.7"/>
<circle cx="206.4" cy="248.6" r="7.7"/>
<circle cx="128.4" cy="255.5" r="7.7"/>
<circle cx="152.4" cy="255.7" r="7.7"/>
<circle cx="169.4" cy="262.3" r="7.7"/>
<circle cx="203.2" cy="262.7" r="7.7"/>
<circle cx="189.1" cy="264.2" r="7.7"/>
<circle cx="222.6" cy="263.6" r="7.7"/>
<circle cx="240.5" cy="255.7" r="7.7"/>
<circle cx="141.4" cy="267.7" r="7.7"/>
<circle cx="176.1" cy="277.4" r="7.7"/>
<circle cx="201.5" cy="282.5" r="7.7"/>
<circle cx="221.4" cy="280.6" r="7.7"/>
<circle cx="240.7" cy="277.2" r="7.7"/>
<circle cx="76.7" cy="266.0" r="12.3"/>
<circle cx="88.0" cy="275.4" r="7.7"/>
<circle cx="102.9" cy="287.2" r="7.7"/>
<circle cx="128.6" cy="290.9" r="7.7"/>
<circle cx="155.7" cy="289.0" r="7.7"/>
<circle cx="180.8" cy="300.2" r="7.7"/>
<circle cx="204.0" cy="299.7" r="7.7"/>
<circle cx="237.6" cy="303.1" r="7.7"/>
<circle cx="92.9" cy="308.3" r="7.7"/>
<circle cx="113.9" cy="310.2" r="7.7"/>
<circle cx="90.5" cy="325.1" r="7.7"/>
<circle cx="109.3" cy="329.2" r="7.7"/>
<circle cx="135.6" cy="326.3" r="7.7"/>
<circle cx="150.0" cy="334.3" r="7.7"/>
<circle cx="93.7" cy="341.2" r="7.7"/>
<circle cx="121.3" cy="344.1" r="7.7"/>
<circle cx="103.8" cy="352.6" r="7.7"/>
<circle cx="117.9" cy="367.1" r="7.7"/>
<circle cx="217.5" cy="331.7" r="7.7"/>
<circle cx="258.9" cy="322.2" r="7.7"/>
<circle cx="277.1" cy="234.0" r="7.7"/>
<circle cx="277.1" cy="267.3" r="7.7"/>
<circle cx="279.8" cy="302.2" r="7.7"/>
<circle cx="282.8" cy="332.8" r="7.7"/>
<circle cx="301.1" cy="323.6" r="7.7"/>
<circle cx="319.7" cy="205.0" r="7.7"/>
<circle cx="332.8" cy="283.6" r="7.7"/>
<circle cx="373.9" cy="271.5" r="7.7"/>
<circle cx="318.2" cy="349.7" r="7.7"/>
<circle cx="350.3" cy="370.3" r="7.7"/>
<circle cx="393.1" cy="354.5" r="7.7"/>
<circle cx="391.7" cy="384.3" r="7.7"/>
<circle cx="348.8" cy="401.8" r="7.7"/>
<circle cx="405.1" cy="399.6" r="7.7"/>
<circle cx="430.5" cy="388.7" r="7.7"/>
<circle cx="371.3" cy="434.0" r="7.7"/>
<circle cx="416.0" cy="426.6" r="7.7"/>
<circle cx="478.0" cy="386.9" r="7.7"/>
<circle cx="523.5" cy="413.8" r="7.7"/>
<circle cx="568.3" cy="413.9" r="7.7"/>
<circle cx="599.8" cy="315.0" r="7.7"/>
<circle cx="612.3" cy="390.5" r="7.7"/>
<circle cx="685.2" cy="406.0" r="7.7"/>
<circle cx="711.0" cy="386.8" r="7.7"/>
<circle cx="654.4" cy="434.7" r="7.7"/>
<circle cx="684.3" cy="452.0" r="7.7"/>
<circle cx="673.6" cy="157.0" r="7.7"/>
<circle cx="681.6" cy="246.9" r="7.7"/>
<circle cx="744.7" cy="274.8" r="7.7"/>
</g>
<g id="circles" fill="#fff" stroke="#1a1a1a" stroke-width="1">
<circle cx="131.6" cy="147.0" r="7.4"/>
<circle cx="238.5" cy="158.0" r="7.4"/>
<circle cx="280.7" cy="139.9" r="7.4"/>
<circle cx="167.4" cy="172.9" r="7.4"/>
<circle cx="187.3" cy="181.8" r="7.4"/>
<circle cx="204.7" cy="176.0" r="7.4"/>
<circle cx="198.1" cy="159.5" r="12.8"/>
<circle cx="155.4" cy="199.6" r="7.4"/>
<circle cx="188.8" cy="199.6" r="7.4"/>
<circle cx="254.0" cy="200.0" r="7.4"/>
<circle cx="137.0" cy="217.0" r="7.4"/>
<circle cx="152.1" cy="217.0" r="7.4"/>
<circle cx="204.7" cy="214.3" r="7.4"/>
<circle cx="226.5" cy="213.1" r="7.4"/>
<circle cx="176.9" cy="217.2" r="14.2"/>
<circle cx="129.1" cy="235.4" r="7.4"/>
<circle cx="144.9" cy="237.0" r="7.4"/>
<circle cx="161.4" cy="232.9" r="7.4"/>
<circle cx="202.4" cy="230.1" r="7.4"/>
<circle cx="218.6" cy="234.3" r="7.4"/>
<circle cx="181.9" cy="230.1" r="7.4"/>
<circle cx="172.0" cy="245.1" r="7.4"/>
<circle cx="189.4" cy="246.8" r="7.4"/>
<circle cx="206.1" cy="247.6" r="7.4"/>
<circle cx="128.1" cy="254.5" r="7.4"/>
<circle cx="152.1" cy="254.7" r="7.4"/>
<circle cx="169.1" cy="261.3" r="7.4"/>
<circle cx="202.9" cy="261.7" r="7.4"/>
<circle cx="188.8" cy="263.2" r="7.4"/>
<circle cx="222.3" cy="262.6" r="7.4"/>
<circle cx="240.2" cy="254.7" r="7.4"/>
<circle cx="141.1" cy="266.7" r="7.4"/>
<circle cx="175.8" cy="276.4" r="7.4"/>
<circle cx="201.2" cy="281.5" r="7.4"/>
<circle cx="221.1" cy="279.6" r="7.4"/>
<circle cx="240.4" cy="276.2" r="7.4"/>
<circle cx="76.4" cy="265.0" r="12.0"/>
<circle cx="87.7" cy="274.4" r="7.4"/>
<circle cx="102.6" cy="286.2" r="7.4"/>
<circle cx="128.3" cy="289.9" r="7.4"/>
<circle cx="155.4" cy="288.0" r="7.4"/>
<circle cx="180.5" cy="299.2" r="7.4"/>
<circle cx="203.7" cy="298.7" r="7.4"/>
<circle cx="237.3" cy="302.1" r="7.4"/>
<circle cx="92.6" cy="307.3" r="7.4"/>
<circle cx="113.6" cy="309.2" r="7.4"/>
<circle cx="90.2" cy="324.1" r="7.4"/>
<circle cx="109.0" cy="328.2" r="7.4"/>
<circle cx="135.3" cy="325.3" r="7.4"/>
<circle cx="149.7" cy="333.3" r="7.4"/>
<circle cx="93.4" cy="340.2" r="7.4"/>
<circle cx="121.0" cy="343.1" r="7.4"/>
<circle cx="103.5" cy="351.6" r="7.4"/>
<circle cx="117.6" cy="366.1" r="7.4"/>
<circle cx="217.2" cy="330.7" r="7.4"/>
<circle cx="258.6" cy="321.2" r="7.4"/>
<circle cx="276.8" cy="233.0" r="7.4"/>
<circle cx="276.8" cy="266.3" r="7.4"/>
<circle cx="279.5" cy="301.2" r="7.4"/>
<circle cx="282.5" cy="331.8" r="7.4"/>
<circle cx="300.8" cy="322.6" r="7.4"/>
<circle cx="319.4" cy="204.0" r="7.4"/>
<circle cx="332.5" cy="282.6" r="7.4"/>
<circle cx="373.6" cy="270.5" r="7.4"/>
<circle cx="317.9" cy="348.7" r="7.4"/>
<circle cx="350.0" cy="369.3" r="7.4"/>
<circle cx="392.8" cy="353.5" r="7.4"/>
<circle cx="391.4" cy="383.3" r="7.4"/>
<circle cx="348.5" cy="400.8" r="7.4"/>
<circle cx="404.8" cy="398.6" r="7.4"/>
<circle cx="430.2" cy="387.7" r="7.4"/>
<circle cx="371.0" cy="433.0" r="7.4"/>
<circle cx="415.7" cy="425.6" r="7.4"/>
<circle cx="477.7" cy="385.9" r="7.4"/>
<circle cx="523.2" cy="412.8" r="7.4"/>
<circle cx="568.0" cy="412.9" r="7.4"/>
<circle cx="599.5" cy="314.0" r="7.4"/>
<circle cx="612.0" cy="389.5" r="7.4"/>
<circle cx="684.9" cy="405.0" r="7.4"/>
<circle cx="710.7" cy="385.8" r="7.4"/>
<circle cx="654.1" cy="433.7" r="7.4"/>
<circle cx="684.0" cy="451.0" r="7.4"/>
<circle cx="673.3" cy="156.0" r="7.4"/>
<circle cx="681.3" cy="245.9" r="7.4"/>
<circle cx="744.4" cy="273.8" r="7.4"/>
</g>
<g id="clabels" fill="#222" text-anchor="middle" stroke="#222" stroke-width="0.12">
<text x="131.6" y="148.8" font-size="5.1" textLength="8.5" lengthAdjust="spacingAndGlyphs">+99</text>
<text x="238.5" y="159.8" font-size="5.1" textLength="10.5" lengthAdjust="spacingAndGlyphs">+143</text>
<text x="280.7" y="141.7" font-size="5.1" textLength="7.6" lengthAdjust="spacingAndGlyphs">+91</text>
<text x="167.4" y="174.7" font-size="5.1" textLength="8.5" lengthAdjust="spacingAndGlyphs">+63</text>
<text x="187.3" y="183.6" font-size="5.1" textLength="8.5" lengthAdjust="spacingAndGlyphs">+82</text>
<text x="204.7" y="177.8" font-size="5.1" textLength="10.5" lengthAdjust="spacingAndGlyphs">+153</text>
<text x="198.1" y="161.8" font-size="6.4" textLength="12.1" lengthAdjust="spacingAndGlyphs">+911</text>
<text x="155.4" y="201.4" font-size="5.1" textLength="8.5" lengthAdjust="spacingAndGlyphs">+84</text>
<text x="188.8" y="201.4" font-size="5.1" textLength="10.5" lengthAdjust="spacingAndGlyphs">+148</text>
<text x="254.0" y="201.8" font-size="5.1" textLength="10.5" lengthAdjust="spacingAndGlyphs">+140</text>
<text x="137.0" y="218.8" font-size="5.1" textLength="10.5" lengthAdjust="spacingAndGlyphs">+100</text>
<text x="152.1" y="218.8" font-size="5.1" textLength="9.6" lengthAdjust="spacingAndGlyphs">+118</text>
<text x="204.7" y="216.1" font-size="5.1" textLength="10.5" lengthAdjust="spacingAndGlyphs">+150</text>
<text x="226.5" y="214.9" font-size="5.1" textLength="10.5" lengthAdjust="spacingAndGlyphs">+178</text>
<text x="176.9" y="219.7" font-size="7.0" textLength="18.3" lengthAdjust="spacingAndGlyphs">+1406</text>
<text x="129.1" y="237.2" font-size="5.1" textLength="10.5" lengthAdjust="spacingAndGlyphs">+140</text>
<text x="144.9" y="238.8" font-size="5.1" textLength="8.5" lengthAdjust="spacingAndGlyphs">+90</text>
<text x="161.4" y="234.7" font-size="5.1" textLength="10.5" lengthAdjust="spacingAndGlyphs">+128</text>
<text x="202.4" y="231.9" font-size="5.1" textLength="8.5" lengthAdjust="spacingAndGlyphs">+99</text>
<text x="218.6" y="236.1" font-size="5.1" textLength="7.6" lengthAdjust="spacingAndGlyphs">+10</text>
<text x="181.9" y="231.9" font-size="5.1" textLength="11.4" lengthAdjust="spacingAndGlyphs">+495</text>
<text x="172.0" y="246.9" font-size="5.1" textLength="8.5" lengthAdjust="spacingAndGlyphs">+72</text>
<text x="189.4" y="248.6" font-size="5.1" textLength="10.5" lengthAdjust="spacingAndGlyphs">+130</text>
<text x="206.1" y="249.4" font-size="5.1" textLength="11.4" lengthAdjust="spacingAndGlyphs">+388</text>
<text x="128.1" y="256.3" font-size="5.1" textLength="9.6" lengthAdjust="spacingAndGlyphs">+101</text>
<text x="152.1" y="256.5" font-size="5.1" textLength="9.6" lengthAdjust="spacingAndGlyphs">+116</text>
<text x="169.1" y="263.1" font-size="5.1" textLength="10.5" lengthAdjust="spacingAndGlyphs">+123</text>
<text x="202.9" y="263.5" font-size="5.1" textLength="8.5" lengthAdjust="spacingAndGlyphs">+52</text>
<text x="188.8" y="265.0" font-size="5.1" textLength="8.5" lengthAdjust="spacingAndGlyphs">+55</text>
<text x="222.3" y="264.4" font-size="5.1" textLength="8.5" lengthAdjust="spacingAndGlyphs">+37</text>
<text x="240.2" y="256.5" font-size="5.1" textLength="10.5" lengthAdjust="spacingAndGlyphs">+128</text>
<text x="141.1" y="268.5" font-size="5.1" textLength="10.5" lengthAdjust="spacingAndGlyphs">+301</text>
<text x="175.8" y="278.2" font-size="5.1" textLength="10.5" lengthAdjust="spacingAndGlyphs">+186</text>
<text x="201.2" y="283.3" font-size="5.1" textLength="10.5" lengthAdjust="spacingAndGlyphs">+120</text>
<text x="221.1" y="281.4" font-size="5.1" textLength="8.5" lengthAdjust="spacingAndGlyphs">+55</text>
<text x="240.4" y="278.0" font-size="5.1" textLength="8.5" lengthAdjust="spacingAndGlyphs">+95</text>
<text x="76.4" y="267.5" font-size="7.0" textLength="12.8" lengthAdjust="spacingAndGlyphs">+64</text>
<text x="87.7" y="276.2" font-size="5.1" textLength="8.5" lengthAdjust="spacingAndGlyphs">+67</text>
<text x="102.6" y="288.0" font-size="5.1" textLength="10.5" lengthAdjust="spacingAndGlyphs">+142</text>
<text x="128.3" y="291.7" font-size="5.1" textLength="11.4" lengthAdjust="spacingAndGlyphs">+296</text>
<text x="155.4" y="289.8" font-size="5.1" textLength="11.4" lengthAdjust="spacingAndGlyphs">+202</text>
<text x="180.5" y="301.0" font-size="5.1" textLength="10.5" lengthAdjust="spacingAndGlyphs">+201</text>
<text x="203.7" y="300.5" font-size="5.1" textLength="11.4" lengthAdjust="spacingAndGlyphs">+278</text>
<text x="237.3" y="303.9" font-size="5.1" textLength="9.6" lengthAdjust="spacingAndGlyphs">+141</text>
<text x="92.6" y="309.1" font-size="5.1" textLength="6.8" lengthAdjust="spacingAndGlyphs">+11</text>
<text x="113.6" y="311.0" font-size="5.1" textLength="8.5" lengthAdjust="spacingAndGlyphs">+62</text>
<text x="90.2" y="325.9" font-size="5.1" textLength="8.5" lengthAdjust="spacingAndGlyphs">+43</text>
<text x="109.0" y="330.0" font-size="5.1" textLength="8.5" lengthAdjust="spacingAndGlyphs">+73</text>
<text x="135.3" y="327.1" font-size="5.1" textLength="8.5" lengthAdjust="spacingAndGlyphs">+40</text>
<text x="149.7" y="335.1" font-size="5.1" textLength="9.6" lengthAdjust="spacingAndGlyphs">+112</text>
<text x="93.4" y="342.0" font-size="5.1" textLength="8.5" lengthAdjust="spacingAndGlyphs">+34</text>
<text x="121.0" y="344.9" font-size="5.1" textLength="7.6" lengthAdjust="spacingAndGlyphs">+12</text>
<text x="103.5" y="353.4" font-size="5.1" textLength="7.6" lengthAdjust="spacingAndGlyphs">+14</text>
<text x="117.6" y="367.9" font-size="5.1" textLength="8.5" lengthAdjust="spacingAndGlyphs">+40</text>
<text x="217.2" y="332.5" font-size="5.1" textLength="8.5" lengthAdjust="spacingAndGlyphs">+95</text>
<text x="258.6" y="323.0" font-size="5.1" textLength="10.5" lengthAdjust="spacingAndGlyphs">+218</text>
<text x="276.8" y="234.8" font-size="5.1" textLength="8.5" lengthAdjust="spacingAndGlyphs">+79</text>
<text x="276.8" y="268.1" font-size="5.1" textLength="10.5" lengthAdjust="spacingAndGlyphs">+212</text>
<text x="279.5" y="303.0" font-size="5.1" textLength="10.5" lengthAdjust="spacingAndGlyphs">+170</text>
<text x="282.5" y="333.6" font-size="5.1" textLength="8.5" lengthAdjust="spacingAndGlyphs">+75</text>
<text x="300.8" y="324.4" font-size="5.1" textLength="8.5" lengthAdjust="spacingAndGlyphs">+83</text>
<text x="319.4" y="205.8" font-size="5.1" textLength="5.7" lengthAdjust="spacingAndGlyphs">+2</text>
<text x="332.5" y="284.4" font-size="5.1" textLength="10.5" lengthAdjust="spacingAndGlyphs">+122</text>
<text x="373.6" y="272.3" font-size="5.1" textLength="8.5" lengthAdjust="spacingAndGlyphs">+46</text>
<text x="317.9" y="350.5" font-size="5.1" textLength="9.6" lengthAdjust="spacingAndGlyphs">+101</text>
<text x="350.0" y="371.1" font-size="5.1" textLength="9.6" lengthAdjust="spacingAndGlyphs">+118</text>
<text x="392.8" y="355.3" font-size="5.1" textLength="8.5" lengthAdjust="spacingAndGlyphs">+56</text>
<text x="391.4" y="385.1" font-size="5.1" textLength="7.6" lengthAdjust="spacingAndGlyphs">+71</text>
<text x="348.5" y="402.6" font-size="5.1" textLength="10.5" lengthAdjust="spacingAndGlyphs">+138</text>
<text x="404.8" y="400.4" font-size="5.1" textLength="7.6" lengthAdjust="spacingAndGlyphs">+10</text>
<text x="430.2" y="389.5" font-size="5.1" textLength="9.6" lengthAdjust="spacingAndGlyphs">+171</text>
<text x="371.0" y="434.8" font-size="5.1" textLength="4.8" lengthAdjust="spacingAndGlyphs">+1</text>
<text x="415.7" y="427.4" font-size="5.1" textLength="5.7" lengthAdjust="spacingAndGlyphs">+7</text>
<text x="477.7" y="387.7" font-size="5.1" textLength="11.4" lengthAdjust="spacingAndGlyphs">+236</text>
<text x="523.2" y="414.6" font-size="5.1" textLength="10.5" lengthAdjust="spacingAndGlyphs">+100</text>
<text x="568.0" y="414.7" font-size="5.1" textLength="10.5" lengthAdjust="spacingAndGlyphs">+104</text>
<text x="599.5" y="315.8" font-size="5.1" textLength="8.5" lengthAdjust="spacingAndGlyphs">+45</text>
<text x="612.0" y="391.3" font-size="5.1" textLength="8.5" lengthAdjust="spacingAndGlyphs">+44</text>
<text x="684.9" y="406.8" font-size="5.1" textLength="8.5" lengthAdjust="spacingAndGlyphs">+86</text>
<text x="710.7" y="387.6" font-size="5.1" textLength="8.5" lengthAdjust="spacingAndGlyphs">+43</text>
<text x="654.1" y="435.5" font-size="5.1" textLength="5.7" lengthAdjust="spacingAndGlyphs">+4</text>
<text x="684.0" y="452.8" font-size="5.1" textLength="8.5" lengthAdjust="spacingAndGlyphs">+93</text>
<text x="673.3" y="157.8" font-size="5.1" textLength="4.8" lengthAdjust="spacingAndGlyphs">+1</text>
<text x="681.3" y="247.7" font-size="5.1" textLength="5.7" lengthAdjust="spacingAndGlyphs">+4</text>
<text x="744.4" y="275.6" font-size="5.1" textLength="8.5" lengthAdjust="spacingAndGlyphs">+36</text>
</g>
<rect x="209.5" y="163" width="5" height="5.4" fill="#fff" fill-opacity="0.9"/>
<rect x="143" y="186.4" width="35.6" height="12.2" fill="#fff" fill-opacity="0.78"/>
<circle cx="161.6" cy="135.2" r="2.8" fill="#b30000"/>
<text x="168.6" y="137.7" font-size="6.8" font-weight="bold" fill="#1d1d1d" stroke="#1d1d1d" stroke-width="0.2" textLength="56.4" lengthAdjust="spacingAndGlyphs">Санкт-Петербург</text>
<circle cx="137.0" cy="192.8" r="2.8" fill="#b30000"/>
<text x="143.8" y="195.2" font-size="6.8" font-weight="bold" fill="#1d1d1d" stroke="#1d1d1d" stroke-width="0.2" textLength="24.2" lengthAdjust="spacingAndGlyphs">Москва</text>
<circle cx="56.8" cy="245.5" r="2.8" fill="#b30000"/>
<text x="63.2" y="247.9" font-size="6.8" font-weight="bold" fill="#1d1d1d" stroke="#1d1d1d" stroke-width="0.2" textLength="43.0" lengthAdjust="spacingAndGlyphs">Севастополь</text>
<g filter="url(#bs)" fill="#000" fill-opacity="0.16" transform="translate(1,5)"><circle cx="175.2" cy="441.2" r="58.0"/><circle cx="256.0" cy="474.0" r="36.0"/><circle cx="256.6" cy="420.0" r="29.0"/><path d="M175.2 441.2 L208.9 488.4 L209.8 487.8 L210.8 487.3 L211.9 486.9 L213.0 486.6 L214.2 486.4 L215.3 486.4 L216.5 486.5 L217.6 486.7 L218.7 487.0 L219.8 487.4 L220.8 487.9 L221.7 488.5 L222.6 489.2 L223.4 490.1 L224.2 491.0 L224.8 491.9 L256.0 474.0 Z"/><path d="M175.2 441.2 L221.5 406.2 L221.9 406.8 L222.5 407.3 L223.1 407.7 L223.7 408.0 L224.4 408.3 L225.1 408.5 L225.9 408.6 L226.6 408.6 L227.4 408.5 L228.1 408.3 L228.8 408.0 L229.4 407.7 L230.0 407.3 L230.6 406.8 L231.0 406.2 L231.4 405.6 L256.6 420.0 Z"/><path d="M175.2 441.2 L256.6 420.0 L256.0 474.0 Z"/></g>
<g fill="url(#bl)"><circle cx="175.2" cy="441.2" r="58.0"/><circle cx="256.0" cy="474.0" r="36.0"/><circle cx="256.6" cy="420.0" r="29.0"/><path d="M175.2 441.2 L208.9 488.4 L209.8 487.8 L210.8 487.3 L211.9 486.9 L213.0 486.6 L214.2 486.4 L215.3 486.4 L216.5 486.5 L217.6 486.7 L218.7 487.0 L219.8 487.4 L220.8 487.9 L221.7 488.5 L222.6 489.2 L223.4 490.1 L224.2 491.0 L224.8 491.9 L256.0 474.0 Z"/><path d="M175.2 441.2 L221.5 406.2 L221.9 406.8 L222.5 407.3 L223.1 407.7 L223.7 408.0 L224.4 408.3 L225.1 408.5 L225.9 408.6 L226.6 408.6 L227.4 408.5 L228.1 408.3 L228.8 408.0 L229.4 407.7 L230.0 407.3 L230.6 406.8 L231.0 406.2 L231.4 405.6 L256.6 420.0 Z"/><path d="M175.2 441.2 L256.6 420.0 L256.0 474.0 Z"/></g>
<circle cx="175.2" cy="441.2" r="58.0" fill="url(#rg)"/>
<circle cx="257.6" cy="422.0" r="31.0" fill="#000" fill-opacity="0.25" filter="url(#cs)"/>
<circle cx="256.6" cy="420.0" r="31.0" fill="#16ac3e"/>
<circle cx="178.9" cy="497.0" r="15.7" fill="#000" fill-opacity="0.25" filter="url(#cs)"/>
<circle cx="178.4" cy="495.5" r="15.7" fill="#c9c9c9"/>
<text x="176.6" y="433.0" font-size="15.5" font-weight="bold" fill="#fff" text-anchor="middle" textLength="67.0" lengthAdjust="spacingAndGlyphs">4 212 100</text>
<text x="177.7" y="450.7" font-size="10.5" font-weight="normal" stroke="#fff" stroke-width="0.35" fill="#fff" text-anchor="middle" textLength="72.6" lengthAdjust="spacingAndGlyphs">Выявленных в</text>
<text x="177.7" y="460.9" font-size="10.5" font-weight="normal" stroke="#fff" stroke-width="0.35" fill="#fff" text-anchor="middle" textLength="35.0" lengthAdjust="spacingAndGlyphs">России</text>
<text x="256.6" y="423.6" font-size="10.5" font-weight="bold" fill="#fff" text-anchor="middle" textLength="46.0" lengthAdjust="spacingAndGlyphs">3 767 664</text>
<text x="255.0" y="468.2" font-size="11.6" font-weight="bold" fill="#fff" text-anchor="middle" textLength="41.0" lengthAdjust="spacingAndGlyphs">973 578</text>
<text x="254.5" y="480.5" font-size="7.4" font-weight="normal" stroke="#ffe3bd" stroke-width="0.2" fill="#ffe3bd" text-anchor="middle" textLength="43.4" lengthAdjust="spacingAndGlyphs">Выявленных</text>
<text x="254.3" y="486.9" font-size="7.4" font-weight="normal" stroke="#ffe3bd" stroke-width="0.2" fill="#ffe3bd" text-anchor="middle" textLength="31.3" lengthAdjust="spacingAndGlyphs">в Москве</text>
<text x="178.4" y="498.0" font-size="6.6" font-weight="bold" fill="#222" text-anchor="middle" textLength="21.3" lengthAdjust="spacingAndGlyphs">84 876</text>
<text x="256.5" y="382.0" font-size="7.2" font-weight="bold" fill="#222" text-anchor="middle" textLength="42.6" lengthAdjust="spacingAndGlyphs">Вылеченных</text>
<text x="178.8" y="521.5" font-size="6.4" font-weight="bold" fill="#222" text-anchor="middle" textLength="30.8" lengthAdjust="spacingAndGlyphs">Погибших</text>
<text x="178.8" y="528.2" font-size="6.4" font-weight="bold" fill="#222" text-anchor="middle" textLength="47.2" lengthAdjust="spacingAndGlyphs">от заболевания</text>
<rect x="353.2" y="494.9" width="119.5" height="12.6" fill="url(#lg)"/>
<text x="350" y="521.9" font-size="9.4" fill="#222" textLength="31.4" lengthAdjust="spacingAndGlyphs">&gt;10000</text>
<text x="442" y="521.9" font-size="9.4" fill="#222" textLength="31.6" lengthAdjust="spacingAndGlyphs">&lt;10000</text>
</svg></body></html>
